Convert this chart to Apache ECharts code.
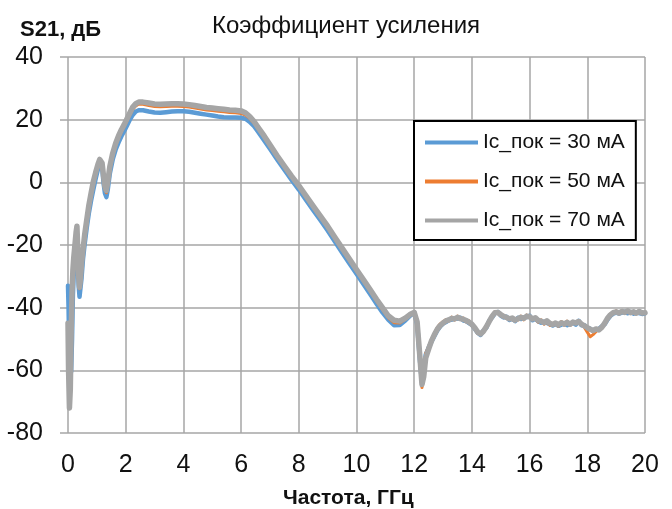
<!DOCTYPE html>
<html>
<head>
<meta charset="utf-8">
<script src="https://cdn.jsdelivr.net/npm/echarts@6/dist/echarts.min.js"></script>
<style>
  html, body { margin: 0; padding: 0; background: #fff; }
  #chart { width: 672px; height: 509px; }
</style>
</head>
<body>
<div id="chart"></div>
<script>
// Frequency grid, GHz
const freq = [
  0, 0.02, 0.05, 0.08, 0.11, 0.14, 0.17, 0.2, 0.24, 0.28,
  0.31, 0.34, 0.37, 0.4, 0.43, 0.47, 0.52, 0.58, 0.65, 0.72,
  0.8, 0.88, 0.96, 1.04, 1.1, 1.14, 1.18, 1.23, 1.28, 1.33,
  1.38, 1.45, 1.55, 1.65, 1.75, 1.85, 1.95, 2.05, 2.15, 2.25,
  2.35, 2.45, 2.6, 2.8, 3.0, 3.2, 3.4, 3.6, 3.8, 4.0,
  4.2, 4.4, 4.6, 4.8, 5.0, 5.2, 5.4, 5.6, 5.8, 6.0,
  6.15, 6.3, 6.45, 6.6, 6.8, 7.0, 7.25, 7.5, 7.75, 8.0,
  8.25, 8.5, 8.75, 9.0, 9.25, 9.5, 9.75, 10.0, 10.25, 10.5,
  10.7, 10.9, 11.1, 11.3, 11.5, 11.7, 11.85, 12.0, 12.1, 12.2,
  12.27, 12.33, 12.4, 12.5, 12.6, 12.7, 12.8, 12.9, 13.0, 13.1,
  13.2, 13.3, 13.4, 13.5, 13.6, 13.7, 13.8, 13.9, 14.0, 14.1,
  14.2, 14.3, 14.4, 14.5, 14.6, 14.7, 14.8, 14.9, 15.0, 15.1,
  15.2, 15.3, 15.4, 15.5, 15.6, 15.7, 15.8, 15.9, 16.0, 16.1,
  16.2, 16.3, 16.4, 16.5, 16.6, 16.7, 16.8, 16.9, 17.0, 17.1,
  17.2, 17.3, 17.4, 17.5, 17.6, 17.7, 17.8, 17.9, 18.0, 18.1,
  18.2, 18.3, 18.4, 18.5, 18.6, 18.7, 18.8, 18.9, 19.0, 19.1,
  19.2, 19.3, 19.4, 19.5, 19.6, 19.7, 19.8, 19.9, 20.0
];

// S21, dB at Ic = 30 mA
const s21_30 = [
  -33, -40, -58, -62, -60, -50, -36, -29, -24, -21.5,
  -22, -27, -33, -36.5, -36, -30.5, -24.5, -19.5, -14.5, -10,
  -5.8, -2.2, 1.2, 4.3, 6.2, 6.8, 5.0, 0, -3.5, -4.7,
  -2.2, 2.8, 7.3, 10.4, 12.7, 14.7, 16.4, 18.2, 20.1, 21.6,
  22.6, 23.0, 23.0, 22.6, 22.3, 22.2, 22.4, 22.6, 22.7, 22.7,
  22.5, 22.2, 21.9, 21.6, 21.3, 21.0, 20.8, 20.7, 20.7, 20.6,
  20.3, 19.3, 17.9, 16.0, 13.4, 10.7, 7.3, 4.0, 0.8, -2.3,
  -5.6, -8.9, -12.1, -15.4, -18.9, -22.4, -25.8, -29.2, -32.6, -36.0,
  -38.8, -41.5, -43.8, -45.6, -45.5, -44.0, -42.6, -41.6, -45, -57,
  -64, -60, -55, -52.8, -50.8, -49.0, -47.3, -46.0, -45.1, -44.6,
  -44.0, -43.8, -43.4, -43.5, -43.2, -44.1, -44.3, -44.9, -45.5, -46.7,
  -48.0, -48.7, -47.3, -46.4, -44.2, -43.1, -41.8, -41.4, -42.5, -43.1,
  -42.9, -43.9, -43.5, -44.3, -43.2, -43.6, -43.1, -43.0, -42.6, -44.0,
  -43.5, -44.4, -44.8, -44.5, -44.9, -45.3, -45.7, -45.2, -45.8, -45.4,
  -45.0, -45.6, -45.1, -44.8, -45.4, -44.2, -45.6, -45.6, -46.6, -46.7,
  -47.5, -47.1, -46.8, -46.0, -45.3, -43.8, -42.6, -41.9, -41.6, -41.9,
  -41.6, -41.3, -41.8, -41.4, -41.9, -41.5, -41.7, -42.0, -41.8
];

// S21, dB at Ic = 50 mA
const s21_50 = [
  -50, -66, -64, -55, -42, -33, -27, -23.5, -20.5, -17.5,
  -17, -22, -29, -34, -33, -27.5, -22.5, -17.5, -13, -8.5,
  -4.3, -0.5, 2.6, 5.3, 6.9, 7.3, 5.8, 1.5, -2.3, -3.3,
  -0.8, 4.1, 8.6, 11.7, 14.1, 16.1, 17.8, 19.7, 21.6, 23.3,
  24.4, 25.0, 24.9, 24.5, 24.2, 24.1, 24.2, 24.3, 24.3, 24.2,
  24.0, 23.7, 23.4, 23.1, 22.9, 22.7, 22.5, 22.3, 22.2, 22.0,
  21.5, 20.4, 18.9, 17.0, 14.4, 11.6, 8.1, 4.8, 1.6, -1.4,
  -4.7, -8.0, -11.2, -14.5, -18.0, -21.5, -24.9, -28.3, -31.7, -35.1,
  -37.9, -40.6, -43.2, -44.8, -44.9, -43.6, -42.3, -41.3, -44, -58,
  -65.5, -61, -54.5, -52.5, -50.1, -48.2, -46.4, -45.2, -44.5, -43.8,
  -44.2, -43.0, -43.9, -42.7, -43.8, -43.3, -44.5, -44.2, -45.7, -46.8,
  -48.2, -48.0, -47.9, -45.7, -44.8, -42.5, -41.3, -41.9, -42.6, -42.4,
  -43.5, -43.2, -43.9, -43.6, -43.9, -42.7, -43.9, -42.4, -43.3, -43.2,
  -43.7, -44.6, -43.9, -45.3, -44.6, -45.6, -45.0, -45.3, -45.9, -44.4,
  -45.6, -44.3, -45.7, -44.9, -44.5, -44.8, -45.0, -46.3, -47.8, -49.3,
  -48.6, -47.7, -46.8, -46.7, -44.7, -43.7, -42.0, -41.9, -41.0, -41.9,
  -40.9, -41.8, -41.3, -41.3, -41.6, -41.5, -41.0, -41.9, -41.4
];

// S21, dB at Ic = 70 mA
const s21_70 = [
  -45, -60, -72, -66, -48, -35, -28, -24, -20, -16,
  -14, -22, -30, -33.5, -31, -26, -21.5, -16.5, -12, -7.5,
  -3.5, 0.3, 3.2, 5.8, 7.3, 7.6, 6.2, 2.2, -1.5, -2.6,
  0.3, 5, 9.3, 12.4, 14.8, 16.8, 18.5, 20.4, 22.3, 24.1,
  25.1, 25.6, 25.6, 25.3, 25.0, 24.9, 25.0, 25.1, 25.1, 25.0,
  24.8, 24.5, 24.2, 23.9, 23.7, 23.5, 23.3, 23.1, 23.0, 22.8,
  22.2, 21.0, 19.4, 17.4, 14.8, 12.0, 8.5, 5.2, 2.0, -1.0,
  -4.3, -7.6, -10.8, -14.0, -17.5, -21.0, -24.4, -27.8, -31.2, -34.6,
  -37.4, -40.0, -42.6, -44.0, -44.3, -43.3, -42.2, -41.5, -44.5, -56,
  -64.5, -62, -56, -53.2, -50.6, -48.6, -46.9, -45.7, -44.9, -44.2,
  -43.9, -43.4, -43.6, -43.1, -43.5, -43.7, -44.1, -44.6, -45.3, -46.4,
  -47.8, -48.4, -47.5, -46.1, -44.4, -42.8, -41.6, -41.5, -42.2, -42.8,
  -43.1, -43.6, -43.3, -44.0, -43.5, -43.1, -43.4, -42.7, -42.9, -43.6,
  -43.2, -44.1, -44.3, -44.8, -44.2, -45.0, -45.4, -44.9, -45.5, -44.8,
  -45.2, -44.7, -45.3, -44.6, -44.9, -44.4, -45.3, -45.8, -46.4, -46.9,
  -47.3, -46.8, -47.1, -46.3, -45.0, -43.4, -42.3, -41.6, -41.3, -41.7,
  -41.2, -41.5, -41.0, -41.6, -41.3, -41.8, -41.2, -41.7, -41.6
];

const seriesNames = ['Ic_пок = 30 мА', 'Ic_пок = 50 мА', 'Ic_пок = 70 мА'];
const seriesColors = ['#5b9bd5', '#ed7d31', '#a5a5a5'];
const seriesWidths = [4.5, 3, 5.5];
const seriesValues = [s21_30, s21_50, s21_70];

const FONT = "'Liberation Sans', Arial, sans-serif";
const NARROW = "'Liberation Sans Narrow', 'Arial Narrow', 'Liberation Sans', sans-serif";
const GRID_COLOR = '#a6a6a6';

const pairs = vals => freq.map((f, i) => [f, vals[i]]);

const chart = echarts.init(document.getElementById('chart'), null, { renderer: 'canvas' });
chart.setOption({
  animation: false,
  backgroundColor: '#ffffff',
  textStyle: { fontFamily: FONT },
  title: [
    { text: 'Коэффициент усиления', left: 207, top: 9,
      textStyle: { fontFamily: FONT, fontSize: 24, fontWeight: 'normal', color: '#111' } },
    { text: 'S21, дБ', left: 15, top: 14,
      textStyle: { fontFamily: FONT, fontSize: 22, fontWeight: 'bold', color: '#111' } },
    { text: 'Частота, ГГц', left: 278, top: 483,
      textStyle: { fontFamily: FONT, fontSize: 21, fontWeight: 'bold', color: '#111' } }
  ],
  grid: { left: 68, right: 27, top: 57, bottom: 76, containLabel: false },
  legend: {
    orient: 'vertical',
    left: 414, top: 121,
    padding: [11, 11, 9, 11],
    itemGap: 18,
    itemWidth: 53, itemHeight: 4,
    icon: 'rect',
    borderColor: '#000', borderWidth: 2,
    backgroundColor: '#fff',
    textStyle: { fontFamily: FONT, fontSize: 21, color: '#111' },
    data: seriesNames
  },
  xAxis: {
    type: 'value', min: 0, max: 20, interval: 2,
    axisLine: { show: false },
    axisTick: { show: false },
    splitLine: { show: true, lineStyle: { color: GRID_COLOR, width: 1.5 } },
    axisLabel: { fontFamily: NARROW, fontSize: 25, color: '#111', margin: 20 }
  },
  yAxis: {
    type: 'value', min: -80, max: 40, interval: 20,
    axisLine: { show: false },
    axisTick: { show: true, inside: false, length: 8, lineStyle: { color: GRID_COLOR, width: 1.5 } },
    splitLine: { show: true, lineStyle: { color: GRID_COLOR, width: 1.5 } },
    axisLabel: { fontFamily: NARROW, fontSize: 25, color: '#111', margin: 25 }
  },
  series: seriesNames.map((name, k) => ({
    name,
    type: 'line',
    data: pairs(seriesValues[k]),
    showSymbol: false,
    symbol: 'none',
    color: seriesColors[k],
    lineStyle: { color: seriesColors[k], width: seriesWidths[k], join: 'round', cap: 'round' },
    z: 2 + k
  }))
});
</script>
</body>
</html>
